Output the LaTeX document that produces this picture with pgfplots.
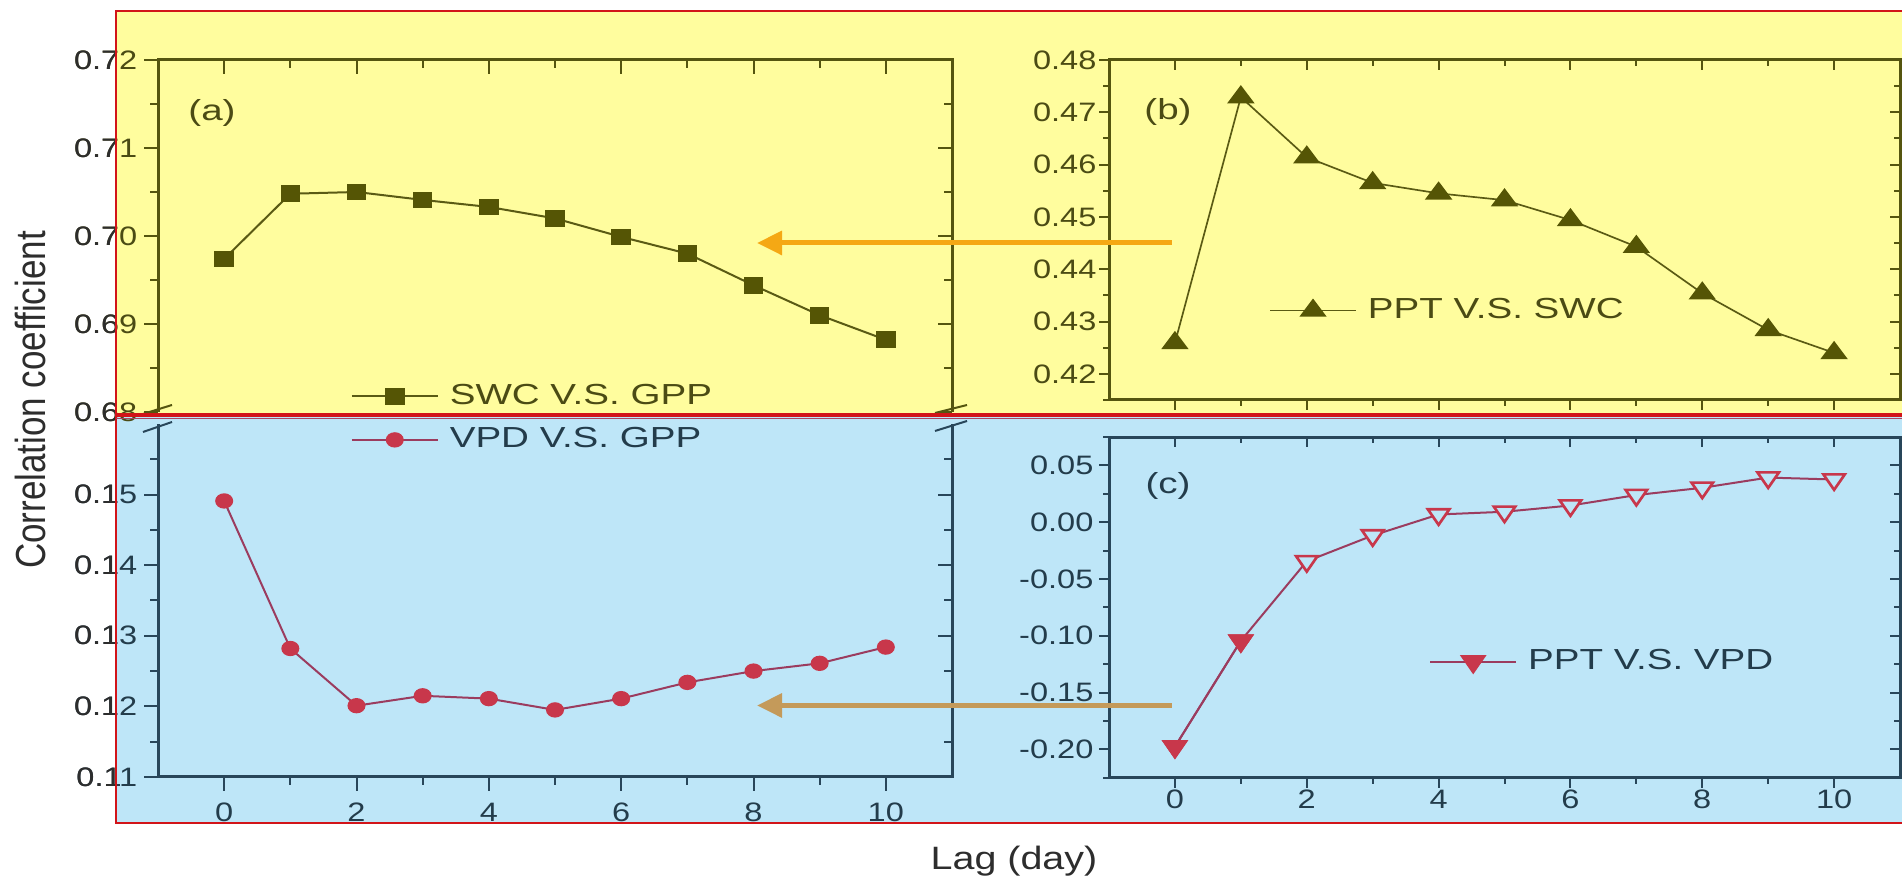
\documentclass[border=0pt]{standalone}
\usepackage{pgfplots}
\pgfplotsset{compat=1.18}
\usepackage{pgfplotstable}
\usepackage{fontspec}
\setmainfont{Liberation Sans}[FakeStretch=1.22]
\newfontfamily\titlefont{Liberation Sans}
\newfontfamily\legfont{Liberation Sans}[FakeStretch=1.33]
\usetikzlibrary{arrows.meta}

\definecolor{yellowbg}{RGB}{255,253,158}
\definecolor{bluebg}{RGB}{190,230,248}
\definecolor{redb}{RGB}{210,20,25}
\definecolor{redshade}{RGB}{170,70,100}
\definecolor{oliveax}{RGB}{85,85,15}
\definecolor{oliveln}{RGB}{90,90,20}
\definecolor{oliveMk}{RGB}{85,85,5}
\definecolor{oliveTxt}{RGB}{75,75,20}
\definecolor{slate}{RGB}{40,70,90}
\definecolor{slateTxt}{RGB}{35,60,75}
\definecolor{redm}{RGB}{200,55,75}
\definecolor{vpdln}{RGB}{155,60,95}
\definecolor{labelblack}{RGB}{45,45,45}
\definecolor{orangeA}{RGB}{245,168,20}
\definecolor{tanA}{RGB}{196,154,90}

% picture coordinates in pixels, origin top left
\newcommand\px[2]{({(#1)*0.3pt},{(882-(#2))*0.3pt})}
\newcommand\ticksize{\fontsize{8}{9}\selectfont}
\newcommand\legsize{\legfont\fontsize{8.7}{9}\selectfont}

\pgfplotstableread{
lag swcgpp vpdgpp pptswc pptvpd
0  0.6974 0.1491 0.4259 -0.1977
1  0.7048 0.1282 0.4729 -0.1045
2  0.7050 0.1201 0.4614 -0.0344
3  0.7041 0.1215 0.4565 -0.0117
4  0.7033 0.1211 0.4545  0.0068
5  0.7020 0.1195 0.4532  0.0092
6  0.6999 0.1211 0.4494  0.0147
7  0.6980 0.1234 0.4443  0.0239
8  0.6944 0.1250 0.4354  0.0303
9  0.6910 0.1261 0.4284  0.0393
10 0.6882 0.1284 0.4240  0.0376
}\lagdata

\pgfplotsset{
  panel/.style={scale only axis, xmin=-1, xmax=11,
    separate axis lines, axis line style={draw=none},
    /pgf/number format/assume math mode=true,
    tick label style={font=\ticksize, inner sep=0pt},
    yticklabel style={/pgf/number format/fixed, /pgf/number format/fixed zerofill,
      /pgf/number format/precision=2},
    tick style={line width=0.6pt}},
  xt/.style={xtick={0,2,4,6,8,10}, minor xtick={1,3,5,7,9}},
  outer ticks/.style={tick align=outside, xtick pos=left, ytick pos=left},
  inner frame/.style={tick align=inside, xtick pos=right, ytick pos=right,
    xticklabels={}, yticklabels={}, clip=false},
  geoA1/.style={width=238.2pt, height=105.6pt, ymin=0.68, ymax=0.72,
    ytick={0.68,0.69,0.70,0.71,0.72}, minor ytick={0.685,0.695,0.705,0.715},
    major tick length=4.2pt, minor tick length=2.4pt, at={(A1)}, anchor=south west,
    yticklabel shift=1.8pt},
  geoA2/.style={width=238.2pt, height=105.9pt, ymin=0.11, ymax=0.16,
    ytick={0.11,0.12,0.13,0.14,0.15}, minor ytick={0.115,0.125,0.135,0.145,0.155},
    major tick length=4.2pt, minor tick length=2.4pt, at={(A2)}, anchor=south west,
    yticklabel shift=1.8pt, xticklabel shift=3.3pt},
  geoB/.style={width=237.3pt, height=102pt, ymin=0.415, ymax=0.48,
    ytick={0.42,0.43,0.44,0.45,0.46,0.47,0.48},
    minor ytick={0.415,0.425,0.435,0.445,0.455,0.465,0.475},
    major tick length=3pt, minor tick length=1.8pt, at={(B)}, anchor=south west,
    yticklabel shift=0.6pt},
  geoC/.style={width=237.3pt, height=102.2pt, ymin=-0.225, ymax=0.075,
    ytick={-0.20,-0.15,-0.10,-0.05,0,0.05},
    minor ytick={-0.225,-0.175,-0.125,-0.075,-0.025,0.025,0.075},
    major tick length=3pt, minor tick length=1.8pt, at={(C)}, anchor=south west,
    yticklabel shift=1.5pt, xticklabel shift=0.6pt},
  leg/.style={legend cell align=left,
    legend style={draw=none, fill=none, inner sep=0pt, outer sep=0pt, font=\legsize,
      nodes={inner sep=0pt, text=#1},
      /tikz/every odd column/.style={column sep=3.3pt}},
    legend image code/.code={\draw[mark repeat=2,mark phase=2,##1]
      plot coordinates {(0pt,0pt) (12.9pt,0pt) (25.8pt,0pt)};}},
  swc/.style={oliveln, line width=0.6pt, mark=square*, mark size=2.2pt,
    mark options={fill=oliveMk, draw=oliveMk, xscale=1.2}},
  vpd/.style={vpdln, line width=0.6pt, mark=*, mark size=2pt,
    mark options={fill=redm, draw=redm, xscale=1.2}},
  pptswc/.style={oliveln, line width=0.5pt, mark=triangle*, mark size=3.2pt,
    mark options={fill=oliveMk, draw=oliveMk, xscale=1.3}},
  pptvpd/.style={vpdln, line width=0.6pt, mark=triangle*, mark size=3.1pt,
    mark options={rotate=180, fill=#1, draw=redm, line width=0.8pt, xscale=1.2}},
}

\begin{document}
\begin{tikzpicture}
\useasboundingbox (0,0) rectangle (570.6pt,264.6pt);
\fill[yellowbg] \px{116}{11} rectangle \px{1902}{416};
\fill[bluebg] \px{116}{416} rectangle \px{1902}{823};
\path \px{158}{412} coordinate (A1);
\path \px{158}{777} coordinate (A2);
\path \px{1109}{400} coordinate (B);
\path \px{1109}{777.7} coordinate (C);

% (a) upper part: SWC vs GPP
\begin{axis}[panel, geoA1, outer ticks, xtick=\empty, tick style={oliveax},
  yticklabel style={text=oliveTxt}, leg=oliveTxt,
  legend style={at={(0.2428,0.044)}, anchor=west}]
\addplot[swc] table[x=lag, y=swcgpp] {\lagdata};
\addlegendentry{SWC V.S. GPP}
\end{axis}
\begin{axis}[panel, geoA1, inner frame, xt, tick style={oliveax}]
\draw[oliveax, line width=0.9pt] (rel axis cs:0,0) -- (rel axis cs:0,1)
  -- (rel axis cs:1,1) -- (rel axis cs:1,0);
\end{axis}

% (a) lower part: VPD vs GPP
\begin{axis}[panel, geoA2, outer ticks, xt, tick style={slate},
  yticklabel style={text=slateTxt}, xticklabel style={text=slateTxt}, leg=slateTxt,
  legend style={at={(0.2428,0.955)}, anchor=west}]
\addplot[vpd] table[x=lag, y=vpdgpp] {\lagdata};
\addlegendentry{VPD V.S. GPP}
\end{axis}
\begin{axis}[panel, geoA2, inner frame, xtick=\empty, tick style={slate}]
\draw[slate, line width=0.9pt] (rel axis cs:0,1) -- (rel axis cs:0,0)
  -- (rel axis cs:1,0) -- (rel axis cs:1,1);
\end{axis}

% break marks of the split axis
\draw[oliveax, line width=0.6pt] \px{143}{414} -- \px{172}{405};
\draw[oliveax, line width=0.6pt] \px{935}{413} -- \px{967}{405};
\draw[slate, line width=0.6pt] \px{143}{432} -- \px{172}{422};
\draw[slate, line width=0.6pt] \px{935}{431} -- \px{967}{421};

% (b) PPT vs SWC
\begin{axis}[panel, geoB, outer ticks, xt, xticklabels={}, tick style={oliveax},
  yticklabel style={text=oliveTxt}, leg=oliveTxt,
  legend style={at={(0.2025,0.263)}, anchor=west}]
\addplot[pptswc] table[x=lag, y=pptswc] {\lagdata};
\addlegendentry{PPT V.S. SWC}
\end{axis}
\begin{axis}[panel, geoB, inner frame, xt, tick style={oliveax}]
\draw[oliveax, line width=0.9pt] (rel axis cs:0,0) rectangle (rel axis cs:1,1);
\end{axis}

% (c) PPT vs VPD
\begin{axis}[panel, geoC, outer ticks, xt, tick style={slate},
  yticklabel style={text=slateTxt}, xticklabel style={text=slateTxt}, leg=slateTxt,
  legend style={at={(0.4048,0.3405)}, anchor=west}]
\addplot[pptvpd=bluebg, forget plot] table[x=lag, y=pptvpd] {\lagdata};
\addplot[pptvpd=redm, restrict x to domain=0:1] table[x=lag, y=pptvpd] {\lagdata};
\addlegendentry{PPT V.S. VPD}
\end{axis}
\begin{axis}[panel, geoC, inner frame, xt, tick style={slate}]
\draw[slate, line width=0.9pt] (rel axis cs:0,0) rectangle (rel axis cs:1,1);
\end{axis}

% tick labels left of the coloured frame stay dark
\begin{scope}
\clip (0,0) rectangle \px{116}{0};
\begin{axis}[panel, geoA1, outer ticks, xtick=\empty, tick style={draw=none},
  yticklabel style={text=labelblack}]
\end{axis}
\begin{axis}[panel, geoA2, outer ticks, xtick=\empty, tick style={draw=none},
  yticklabel style={text=labelblack}]
\end{axis}
\end{scope}

% panel tags
\path \px{212}{113} node[font=\legsize, text=oliveTxt] {(a)};
\path \px{1168}{112.5} node[font=\legsize, text=oliveTxt] {(b)};
\path \px{1168}{486.5} node[font=\legsize, text=slateTxt] {(c)};

% arrows linking the panels
\draw[orangeA, line width=1.5pt, -{Triangle[length=7.5pt,width=7pt]}]
  \px{1171.5}{243} -- \px{757}{243};
\draw[tanA, line width=1.5pt, -{Triangle[length=7.5pt,width=7pt]}]
  \px{1171.5}{705.5} -- \px{757}{705.5};

% frames
\draw[redb, line width=0.75pt] \px{1902}{11} -- \px{116}{11} -- \px{116}{823} -- \px{1902}{823};
\draw[redb, line width=1.2pt] \px{116}{415.5} -- \px{1902}{415.5};
\draw[redshade, line width=0.5pt] \px{116}{418.5} -- \px{1902}{418.5};

% axis titles
\path \px{1014}{870} node[font=\fontsize{9.7}{10}\selectfont, anchor=base, text=labelblack] {Lag (day)};
\path \px{46}{400} node[font={\titlefont\fontsize{10.5}{11}\selectfont}, rotate=90, anchor=base, text=labelblack, inner sep=0pt] {\scalebox{1}[1.2]{Correlation coefficient}};
\end{tikzpicture}
\end{document}
